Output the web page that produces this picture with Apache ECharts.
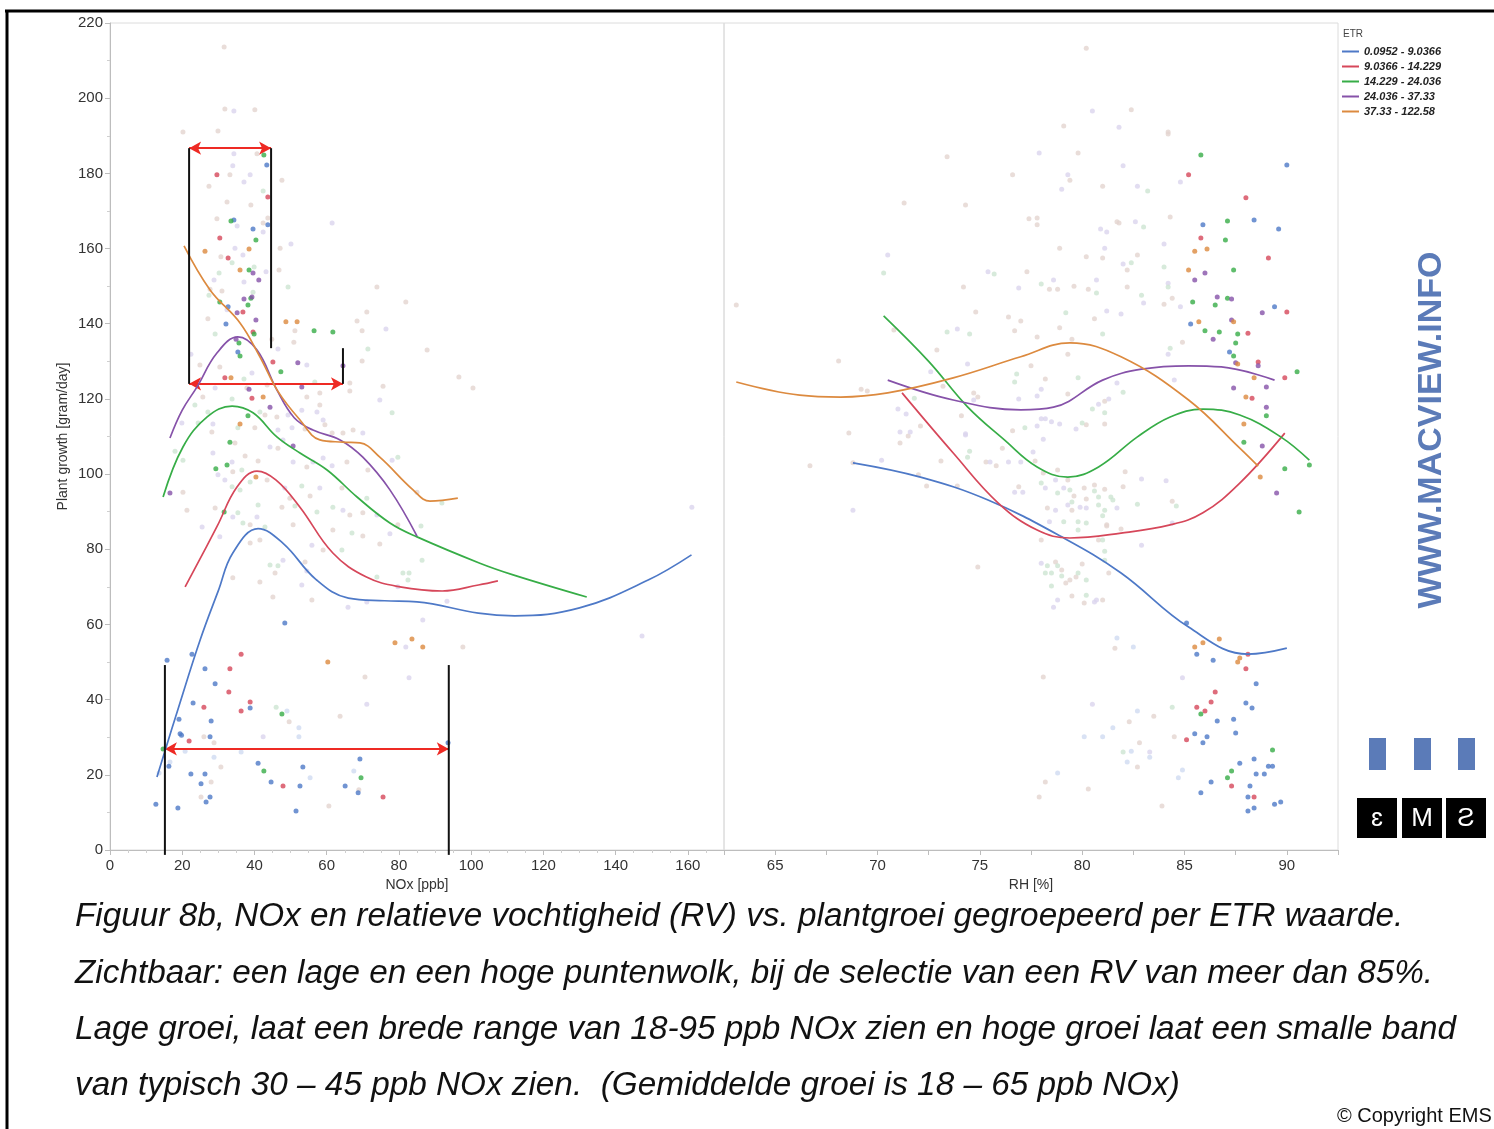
<!DOCTYPE html>
<html><head><meta charset="utf-8">
<script src="https://cdn.jsdelivr.net/npm/echarts@6/dist/echarts.min.js"></script>
<style>html,body{margin:0;padding:0;background:#fff}#c{width:1494px;height:1129px}</style>
</head><body><div id="c"></div>
<script>
// ---------- DATA ----------
const groupNames = ['0.0952 - 9.0366','9.0366 - 14.229','14.229 - 24.036','24.036 - 37.33','37.33 - 122.58'];
const noxTicks = [0,20,40,60,80,100,120,140,160];
const rhTicks = [65,70,75,80,85,90];
const growthTicks = [0,20,40,60,80,100,120,140,160,180,200,220];

// fitted curves, NOx panel  [NOx, growth]
const curveNoxBlue   = [[13,19.4],[19,38],[25,56],[30,69],[34,79],[41,85.5],[48,81.5],[57,72],[66,67],[76,66.3],[85,66],[102,63],[112,62.3],[130,64.4],[149,71.8],[161,78.5]];
const curveNoxRed    = [[20.8,70],[29.6,86],[35.2,96.6],[40.7,100.8],[46,98.4],[52.6,91.2],[61.7,79],[71,72.6],[80.3,70],[92,68.9],[102,70.5],[107.4,71.6]];
const curveNoxGreen  = [[14.7,93.9],[20.2,107.2],[26.9,115.2],[33.8,118.1],[39.6,116.3],[46.2,109.9],[52.6,105.6],[60.1,101.1],[68.4,93.9],[77.5,87],[85,83.3],[102.4,76.3],[111.6,73.2],[132,67.3]];
const curveNoxPurple = [[16.6,109.6],[20,117],[24.1,123.2],[29.6,132.2],[35.4,136.5],[40.7,133],[46.2,122.4],[51,115],[56.2,111.7],[63.7,109.1],[70,104.5],[77.5,95.8],[85,83.5]];
const curveNoxOrange = [[20.5,160.7],[27.7,149],[36,140.2],[41.5,131.2],[46.5,122],[52.6,114.4],[58.1,109.1],[64.5,108.5],[69.2,108.3],[74.7,104.5],[83.9,95.8],[88.6,92.8],[96.3,93.6]];

// fitted curves, RH panel  [RH, growth]
const curveRhBlue   = [[68.8,103],[72.1,99.2],[75.4,93.1],[79,83.3],[81.9,73.7],[85.2,59.3],[88.1,52.1],[90,53.7]];
const curveRhRed    = [[71.2,121.6],[73.7,105.6],[75.9,92.3],[77.8,85.1],[79.4,83],[81.9,84.3],[84.3,86.5],[85.9,89.7],[87.7,97.6],[89.9,110.9]];
const curveRhGreen  = [[70.3,142.1],[72.5,130],[74.4,117.9],[76.2,109.1],[77.8,101.9],[79.3,99.2],[80.8,101.9],[82.7,109.9],[84.3,115.2],[85.9,117.3],[87.7,115.7],[89.7,109.9],[91.1,103.7]];
const curveRhPurple = [[70.5,125],[73.7,119.7],[77,117.1],[78.6,117.8],[81,125],[82.9,127.9],[85.2,128.8],[86.8,128.5],[89.4,125]];
const curveRhOrange = [[63.1,124.5],[66.2,121],[68.2,120.5],[70.5,121.6],[73.7,125.6],[77,131.2],[79.4,134.9],[81.9,131.2],[85.2,119.7],[87.7,106.9],[88.6,102.1]];

// selected (RH > 85%) observations, NOx panel
const ptsNoxBlue   = [[43.4,182.2],[34.3,167.6],[39.6,165.2],[43.7,166.3],[32.7,144.5],[32.1,139.9],[35.4,132.5],[48.4,60.4],[15.8,50.5],[22.7,52.1],[26.3,48.2],[29.1,44.2],[23.0,39.1],[38.8,37.8],[19.1,34.8],[28.0,34.3],[19.4,30.9],[19.8,30.5],[27.7,30.1],[93.6,28.5],[69.2,24.2],[16.3,22.3],[41.0,23.1],[53.4,22.1],[22.4,20.2],[26.3,20.2],[44.6,18.1],[52.6,17.0],[25.2,17.6],[65.1,17.0],[68.7,15.2],[27.7,14.1],[26.6,12.8],[12.7,12.2],[18.8,11.2],[51.5,10.4]];
const ptsNoxRed    = [[29.6,179.6],[43.7,173.7],[30.4,162.8],[32.7,157.5],[36.8,143.1],[39.6,137.8],[45.1,129.8],[31.8,125.6],[39.3,120.2],[36.3,52.1],[33.2,48.2],[32.9,42.0],[26.0,38.0],[38.8,39.4],[36.3,37.0],[21.9,29.0],[47.9,17.0],[75.6,14.1]];
const ptsNoxGreen  = [[42.6,184.9],[33.5,167.3],[40.4,162.3],[38.5,154.3],[39.0,146.8],[30.4,145.8],[38.2,145.0],[56.5,138.1],[61.7,137.8],[39.9,137.3],[35.7,134.9],[36.0,131.4],[47.3,127.2],[38.2,115.5],[33.2,108.5],[29.3,101.4],[32.4,102.4],[31.6,89.9],[47.6,36.2],[14.7,26.9],[42.6,21.0],[69.5,19.2]];
const ptsNoxPurple = [[39.6,153.5],[41.2,151.6],[37.1,146.6],[39.3,147.1],[35.2,142.9],[40.4,141.0],[34.9,135.9],[52.0,129.6],[64.5,128.8],[53.1,123.2],[38.5,122.6],[44.3,117.8],[50.7,107.5],[16.6,95.0]];
const ptsNoxOrange = [[26.3,159.3],[38.5,159.9],[36.0,154.3],[48.7,140.5],[51.8,140.5],[33.5,125.6],[42.4,120.5],[36.0,113.3],[40.4,99.2],[60.3,50.0],[78.9,55.1],[83.6,56.1],[86.6,54.0]];

// selected observations, RH panel
const ptsRhBlue   = [[90.0,182.2],[88.4,167.6],[89.6,165.2],[85.9,166.3],[89.4,144.5],[85.3,139.9],[87.2,132.5],[85.1,60.4],[85.6,52.1],[86.4,50.5],[88.5,44.2],[88.0,39.1],[88.3,37.8],[86.6,34.3],[87.4,34.8],[87.5,31.1],[85.5,30.9],[86.1,30.1],[85.9,28.5],[87.7,23.1],[88.4,24.2],[89.1,22.3],[89.3,22.3],[88.5,20.2],[88.9,20.2],[86.3,18.1],[88.2,17.0],[85.8,15.2],[88.1,14.1],[88.4,11.2],[88.1,10.4],[89.4,12.2],[89.7,12.8]];
const ptsRhRed    = [[85.2,179.6],[88.0,173.5],[85.8,162.8],[89.1,157.5],[90.0,143.1],[88.1,137.5],[88.6,129.8],[89.9,125.6],[88.3,120.2],[88.1,52.1],[88.0,48.2],[86.5,42.0],[86.3,39.4],[85.6,38.0],[86.0,37.0],[85.1,29.3],[87.3,17.0],[88.4,14.1]];
const ptsRhGreen  = [[85.8,184.9],[87.1,167.3],[87.0,162.3],[87.4,154.3],[87.1,146.8],[85.4,145.8],[86.5,145.0],[86.0,138.1],[86.7,137.8],[87.6,137.3],[87.5,134.9],[87.4,131.4],[90.5,127.2],[89.0,115.5],[87.9,108.5],[89.9,101.4],[91.1,102.4],[90.6,89.9],[85.8,36.2],[89.3,26.6],[87.3,21.0],[87.1,19.2]];
const ptsRhPurple = [[86.0,153.5],[85.5,151.6],[86.6,147.1],[87.3,146.6],[88.8,142.9],[87.3,141.0],[86.4,135.9],[88.6,128.8],[87.5,129.6],[87.4,122.9],[89.0,123.2],[89.0,117.8],[88.8,107.5],[89.5,95.0]];
const ptsRhOrange = [[85.5,159.3],[86.1,159.9],[85.2,154.3],[85.7,140.5],[87.4,140.5],[87.6,129.3],[88.4,125.6],[88.0,120.5],[87.9,113.3],[88.7,99.2],[85.5,54.0],[85.9,55.1],[86.7,56.1],[87.7,51.1],[87.6,50.0]];

// remaining (unselected) observations: [x, growth, shade 0 beige / 1 lilac / 2 mint / 3 light blue]
const fadedNox = [
[31.6,213.6,0],[31.8,197.1,0],[34.3,196.6,1],[40.1,196.9,0],[20.2,191.0,0],[29.9,191.3,0],[34.3,185.2,1],[40.7,185.2,0],[34.0,182.0,1],[33.2,179.6,0],[38.8,179.6,1],[47.6,178.2,0],[37.1,177.7,1],[27.4,176.6,0],[42.4,175.3,2],[32.4,172.4,0],[39.0,171.6,0],[29.6,167.9,0],[35.2,166.0,1],[42.4,166.8,0],[43.7,168.1,0],[42.4,164.4,1],[47.1,160.1,0],[50.1,161.2,1],[34.6,160.1,1],[36.8,158.3,1],[30.7,157.8,0],[33.8,156.2,2],[30.2,153.5,2],[39.9,155.1,2],[43.2,153.8,1],[46.8,154.3,0],[28.8,151.6,1],[37.1,151.1,1],[49.3,149.8,2],[27.7,149.2,0],[27.4,147.6,2],[39.6,148.4,2],[31.0,148.7,0],[61.5,166.8,1],[73.9,149.8,0],[71.1,143.1,0],[68.4,140.7,0],[69.8,138.1,0],[76.4,138.6,1],[71.4,133.3,2],[69.8,130.1,0],[32.4,143.7,1],[27.1,141.3,0],[29.1,137.3,2],[51.2,138.1,0],[44.8,135.9,0],[50.9,135.1,0],[46.5,133.3,1],[22.4,131.9,1],[24.9,129.0,0],[30.4,128.5,0],[39.3,126.9,1],[54.5,129.0,1],[37.1,125.3,2],[56.7,124.5,2],[66.4,124.2,0],[29.1,122.9,1],[43.5,123.7,0],[81.9,145.8,0],[87.8,133.0,0],[96.6,125.8,0],
[37.9,122.9,0],[54.5,120.5,0],[58.1,121.6,0],[66.4,122.1,0],[75.6,123.4,0],[74.7,119.7,1],[23.5,118.4,2],[25.7,120.5,0],[27.1,116.5,2],[33.8,120.0,2],[41.5,116.5,2],[42.9,115.7,0],[46.2,115.2,0],[49.3,115.7,1],[53.1,117.0,1],[57.3,116.5,1],[58.1,118.4,0],[59.0,114.4,1],[59.5,113.1,0],[19.9,113.6,1],[24.4,113.6,2],[28.5,113.3,1],[28.2,111.2,0],[35.4,112.3,2],[40.1,112.3,0],[46.5,111.7,1],[50.4,112.3,1],[54.0,112.0,0],[61.5,110.9,0],[64.5,110.9,0],[67.3,111.7,0],[70.0,110.9,1],[78.1,116.3,2],[47.9,109.1,1],[44.3,107.2,1],[46.5,106.9,0],[34.6,108.3,0],[18.0,106.1,2],[20.2,103.7,2],[28.5,105.6,1],[33.8,103.2,1],[37.4,104.8,0],[41.0,103.5,0],[50.7,103.2,1],[54.5,101.9,0],[56.2,103.2,1],[59.0,104.3,1],[61.5,102.2,1],[65.6,103.2,0],[71.4,101.1,0],[78.1,103.7,1],[79.7,104.5,2],[29.9,99.8,1],[31.8,98.4,1],[34.0,100.6,0],[36.5,101.1,2],[38.8,97.9,2],[43.5,98.4,0],[48.4,96.3,1],[49.8,93.6,0],[51.2,91.5,2],[53.1,96.8,2],[55.4,94.2,0],[58.1,96.3,1],[64.2,96.3,0],[33.8,96.6,2],[36.0,95.8,2],[20.2,95.2,0],[21.3,90.4,0],[25.5,85.9,1],[29.1,91.0,0],[30.4,83.3,1],[34.0,88.6,1],[35.4,89.7,2],[36.8,87.0,2],[38.8,86.5,0],[41.0,91.8,2],[40.7,88.6,1],[42.9,85.9,2],[38.8,81.7,0],[41.5,82.5,0],[47.6,91.2,0],[50.7,86.5,0],[55.9,81.1,1],[57.3,89.9,2],[61.7,91.2,2],[64.5,90.4,1],[66.4,89.1,0],[71.1,93.6,2],[70.0,89.7,0],[61.7,85.1,0],[59.0,79.8,0],[64.2,79.8,2],[67.0,84.3,2],[70.0,83.5,0],[74.7,81.4,0],[77.5,84.1,1],[73.9,89.1,1],[79.7,86.5,0],[86.1,86.2,2],[86.4,77.1,2],[81.1,73.7,2],[82.8,73.7,2],[82.5,71.8,2],[73.9,72.6,2],[79.7,70.0,1],[93.3,66.2,1],[44.3,75.8,2],[46.5,75.6,2],[45.7,73.7,0],[47.9,77.1,1],[54.0,76.6,0],[54.5,74.2,1],[53.1,70.5,1],[55.9,66.5,0],[45.1,67.3,0],[41.5,71.3,0],[34.0,72.4,0],[65.9,64.6,1],[71.1,66.0,1],[86.6,61.2,1],[97.7,54.0,0],[100.5,122.9,0],[85.0,95.2,0],[91.9,92.3,2],
[81.9,54.0,1],[70.6,46.0,0],[82.8,45.8,1],[71.1,38.8,1],[46.0,38.0,2],[49.0,37.0,3],[49.6,34.1,0],[63.7,35.6,0],[42.4,30.1,1],[52.3,32.5,3],[52.3,30.1,3],[28.8,28.5,0],[26.0,30.1,0],[20.8,26.3,3],[28.8,24.7,3],[36.3,26.1,3],[16.6,23.4,3],[30.7,22.1,0],[55.4,19.2,3],[67.5,21.0,3],[28.0,18.1,0],[25.2,14.1,0],[68.9,16.0,0],[60.6,11.7,0],[13.6,20.5,3],[147.3,56.9,1],[161.1,91.2,1]
];
const fadedRh = [
[80.2,213.3,0],[80.5,196.6,1],[82.4,196.9,0],[79.1,192.6,0],[81.8,192.3,1],[77.9,185.4,1],[79.8,185.4,0],[73.4,184.4,0],[82.0,182.0,1],[76.6,179.6,0],[79.3,179.6,1],[79.4,178.2,0],[79.0,175.8,1],[81.0,176.6,0],[82.7,176.6,1],[71.3,172.1,0],[74.3,171.6,0],[77.4,167.9,0],[77.8,168.1,0],[77.8,166.3,0],[81.7,167.1,0],[81.8,166.8,0],[80.9,165.2,1],[81.2,164.4,1],[82.6,167.1,1],[78.9,160.1,0],[81.1,160.1,1],[80.2,157.8,0],[81.0,157.5,0],[82.7,158.3,0],[70.5,158.3,1],[70.3,153.5,2],[82.0,155.9,1],[82.4,156.2,2],[82.2,154.3,0],[75.4,153.8,1],[75.7,153.2,2],[77.3,153.8,0],[82.2,149.8,0],[80.7,151.6,1],[80.7,148.2,2],[78.6,151.6,1],[78.4,149.2,0],[78.8,149.2,0],[79.6,150.0,0],[80.3,149.2,0],[76.9,149.5,1],[78.0,150.6,2],[74.2,149.8,0],[74.8,143.1,0],[76.4,141.8,0],[77.0,140.7,0],[76.7,138.1,0],[79.2,142.9,2],[81.2,143.4,1],[81.9,142.6,1],[80.6,141.3,0],[78.9,138.9,0],[77.8,136.5,0],[73.4,137.8,2],[73.9,138.6,1],[74.5,137.3,2],[70.8,138.3,0],[72.9,133.0,0],[81.0,137.3,2],[79.5,135.9,0],[79.3,131.9,0],[77.5,128.8,0],[74.4,129.3,1],[72.6,127.2,1],[73.2,123.4,0],[76.8,126.6,2],[76.7,124.5,2],[78.2,125.3,0],[79.8,125.6,2],[81.7,124.2,1],[82.0,121.8,2],[79.3,121.3,0],[78.0,122.6,1],[77.8,120.8,1],[76.9,120.0,1],[74.7,121.6,0],[74.9,120.5,0],[74.7,119.7,1],[74.1,115.5,0],[71.8,120.2,2],[69.2,122.6,0],[69.5,122.1,0],[68.1,130.1,0],[63.1,145.0,0],[71.0,117.3,1],[71.4,116.0,1],[71.1,111.2,1],[71.6,111.2,1],[72.1,112.8,0],[68.6,110.9,0],[74.3,110.4,1],[76.6,111.5,0],[77.2,112.3,2],[77.8,112.8,1],[78.2,114.7,1],[78.0,114.7,1],[78.5,113.9,1],[78.9,113.3,1],[79.7,112.0,1],[80.0,113.6,2],[80.2,113.1,0],[80.5,117.3,2],[80.8,118.6,1],[81.1,119.4,0],[81.3,120.0,1],[81.1,116.3,2],[81.1,113.3,0],
[84.2,191.0,0],[84.2,190.5,0],[84.8,177.7,1],[83.2,175.3,2],[84.3,168.4,0],[83.0,165.7,2],[84.0,161.2,1],[84.0,155.1,2],[84.2,150.8,1],[84.2,149.8,2],[82.9,147.6,2],[83.0,145.5,1],[84.4,146.8,0],[84.0,145.2,0],[84.8,144.5,1],[84.9,135.1,0],[84.3,133.5,2],[84.2,131.9,1],[84.5,125.0,1],
[68.8,103.0,0],[70.2,103.7,1],[68.8,90.4,1],[71.1,108.3,0],[71.5,110.1,0],[72.0,99.8,0],[72.4,96.8,0],[73.1,103.5,0],[73.9,96.8,0],[74.3,110.7,1],[74.5,106.1,2],[74.4,104.5,2],[74.9,75.3,0],[75.3,103.2,0],[75.5,103.2,1],[75.8,102.2,0],[76.1,106.9,0],[76.4,103.2,1],[76.9,96.6,0],[76.7,95.2,1],[77.1,95.2,1],[77.0,103.2,1],[77.6,105.9,1],[77.7,103.5,0],[78.0,97.6,2],[78.1,109.3,1],[78.1,100.3,0],[78.2,96.3,1],[78.3,91.0,0],[78.4,87.3,1],[78.7,98.4,1],[78.7,90.4,1],[78.8,95.0,2],[78.8,101.1,0],[79.1,87.3,2],[79.1,96.3,1],[79.3,91.8,1],[79.3,98.4,0],[79.4,95.8,2],[79.5,90.4,0],[79.5,92.6,2],[79.6,94.2,0],[79.8,85.1,2],[79.8,87.3,2],[80.2,87.0,2],[79.9,91.2,1],[80.2,91.0,1],[80.1,96.3,0],[80.2,93.4,0],[80.6,97.1,0],[80.6,95.5,2],[80.8,93.9,2],[80.8,91.8,2],[81.1,96.0,0],[81.0,88.9,2],[81.1,90.4,2],[81.2,86.5,0],[81.2,86.2,0],[81.4,93.9,2],[81.5,93.1,2],[81.7,91.0,1],[82.0,96.6,0],[82.1,100.6,0],[81.9,85.4,0],[82.7,92.0,2],[82.9,98.7,1],[82.9,81.1,1],[84.1,98.2,1],[84.4,92.8,0],[84.6,91.5,2],[84.4,87.0,1],[66.7,102.2,0],
[78.0,82.5,0],[78.0,76.3,1],[78.3,75.6,2],[78.5,73.7,2],[78.2,73.7,2],[78.5,70.2,2],[78.7,76.6,0],[78.8,75.6,2],[78.8,66.5,1],[78.6,64.6,1],[79.0,74.5,0],[79.0,72.9,2],[79.2,71.0,0],[79.4,71.8,0],[79.5,67.6,0],[79.7,72.6,0],[79.8,73.7,2],[80.0,76.1,0],[80.2,71.8,2],[80.2,67.8,2],[80.1,65.7,0],[80.6,66.0,1],[80.7,66.5,1],[81.0,66.5,0],[81.1,77.1,2],[81.1,79.5,2],[81.0,82.5,2],[81.3,73.7,0],[80.8,82.5,0],
[81.7,56.4,3],[81.6,53.7,0],[82.5,54.0,3],[78.1,46.0,0],[84.9,45.8,1],[80.5,38.8,1],[84.4,38.0,2],[82.7,37.0,3],[83.5,35.6,0],[82.3,34.1,0],[80.1,30.1,3],[81.0,30.1,3],[84.5,30.1,0],[81.5,32.5,3],[82.8,28.5,0],[83.3,26.1,1],[83.3,24.7,3],[82.0,26.1,2],[82.4,26.3,3],[82.2,23.4,3],[82.7,22.1,0],[78.8,20.5,3],[84.9,21.3,3],[84.7,19.2,3],[78.2,18.1,0],[80.3,16.2,0],[77.9,14.1,0],[83.9,11.7,0]
];

// annotation brackets (NOx, growth) and double arrows
const bracketNox = [[[21.9,124],[21.9,186.7]],[[44.6,133.5],[44.6,186.7]],[[64.5,124],[64.5,133.5]],[[15.2,-1.3],[15.2,49.2]],[[93.8,-1.3],[93.8,49.2]]];
const arrowNox = [[[21.9,186.7],[44.6,186.7]],[[21.9,124],[64.5,124]],[[15.2,26.9],[93.8,26.9]]];

const captionLines = [
 'Figuur 8b, NOx en relatieve vochtigheid (RV) vs. plantgroei gegroepeerd per ETR waarde.',
 'Zichtbaar: een lage en een hoge puntenwolk, bij de selectie van een RV van meer dan 85%.',
 'Lage groei, laat een brede range van 18-95 ppb NOx zien en hoge groei laat een smalle band',
 'van typisch 30 \u2013 45 ppb NOx zien.  (Gemiddelde groei is 18 \u2013 65 ppb NOx)'
];

// ---------- CHART ----------
const COLORS = ['#4e79c7','#d6475a','#37ad47','#8652a9','#dc8a3f'];
const FADE = ['#e3d4cf','#dbd4ee','#cde5d2','#d0dbf1'];
const FONT = '"Liberation Sans", Arial, sans-serif';
const curvesNox = [curveNoxBlue,curveNoxRed,curveNoxGreen,curveNoxPurple,curveNoxOrange];
const curvesRh = [curveRhBlue,curveRhRed,curveRhGreen,curveRhPurple,curveRhOrange];
const ptsNox = [ptsNoxBlue,ptsNoxRed,ptsNoxGreen,ptsNoxPurple,ptsNoxOrange];
const ptsRh = [ptsRhBlue,ptsRhRed,ptsRhGreen,ptsRhPurple,ptsRhOrange];

const series = [];
groupNames.forEach((nm,g)=>{
  series.push({type:'line',name:nm,xAxisIndex:0,yAxisIndex:0,data:curvesNox[g],smooth:0.4,symbol:'none',showSymbol:false,
    lineStyle:{width:1.7,color:COLORS[g]},itemStyle:{color:COLORS[g]},z:5,silent:true});
  series.push({type:'line',name:nm,xAxisIndex:1,yAxisIndex:1,data:curvesRh[g],smooth:0.4,symbol:'none',showSymbol:false,
    lineStyle:{width:1.7,color:COLORS[g]},itemStyle:{color:COLORS[g]},z:5,silent:true});
});
[fadedNox,fadedRh].forEach((arr,ai)=>{
  FADE.forEach((col,k)=>{
    series.push({type:'scatter',xAxisIndex:ai,yAxisIndex:ai,symbolSize:5,z:2,silent:true,
      itemStyle:{color:col},data:arr.filter(p=>p[2]===k).map(p=>[p[0],p[1]])});
  });
});
groupNames.forEach((nm,g)=>{
  series.push({type:'scatter',name:nm,xAxisIndex:0,yAxisIndex:0,symbolSize:5,z:3,silent:true,itemStyle:{color:COLORS[g]},data:ptsNox[g]});
  series.push({type:'scatter',name:nm,xAxisIndex:1,yAxisIndex:1,symbolSize:5,z:3,silent:true,itemStyle:{color:COLORS[g]},data:ptsRh[g]});
});
bracketNox.forEach((seg,i)=>{
  const s = {type:'line',xAxisIndex:0,yAxisIndex:0,data:seg,symbol:'none',showSymbol:false,clip:false,silent:true,z:8,
    lineStyle:{color:'#111',width:2}};
  if(i===0){
    s.markLine = {silent:true,symbol:['arrow','arrow'],symbolSize:[10,12],animation:false,label:{show:false},
      lineStyle:{color:'#ee2a24',width:2,type:'solid'},
      data: arrowNox.map(a=>[{coord:a[0]},{coord:a[1]}])};
  }
  series.push(s);
});

const axLabel = {color:'#333',fontSize:15,fontFamily:FONT};
const graphics = [
  {type:'line',shape:{x1:5,y1:11,x2:1494,y2:11},style:{stroke:'#000',lineWidth:3}},
  {type:'line',shape:{x1:7,y1:10,x2:7,y2:1129},style:{stroke:'#000',lineWidth:3}},
  {type:'text',x:1343,y:34,style:{text:'ETR',font:'10px '+FONT,fill:'#444',textVerticalAlign:'middle',verticalAlign:'middle'}},
  {type:'text',x:1432,y:430,rotation:Math.PI/2,style:{text:'WWW.MACVIEW.INFO',font:'bold 34px '+FONT,fill:'#5b7bb8',
    textAlign:'center',align:'center',textVerticalAlign:'middle',verticalAlign:'middle'}},
  {type:'rect',shape:{x:1369,y:738,width:17,height:32},style:{fill:'#5b7bb8'}},
  {type:'rect',shape:{x:1414,y:738,width:17,height:32},style:{fill:'#5b7bb8'}},
  {type:'rect',shape:{x:1458,y:738,width:17,height:32},style:{fill:'#5b7bb8'}},
  {type:'rect',shape:{x:1357,y:798,width:40,height:40},style:{fill:'#000'}},
  {type:'rect',shape:{x:1402,y:798,width:40,height:40},style:{fill:'#000'}},
  {type:'rect',shape:{x:1446,y:798,width:40,height:40},style:{fill:'#000'}},
  {type:'text',x:1377,y:819,style:{text:'\u025B',font:'26px '+FONT,fill:'#fff',textAlign:'center',align:'center',textVerticalAlign:'middle',verticalAlign:'middle'}},
  {type:'text',x:1422,y:819,style:{text:'M',font:'26px '+FONT,fill:'#fff',textAlign:'center',align:'center',textVerticalAlign:'middle',verticalAlign:'middle'}},
  {type:'text',x:1466,y:819,style:{text:'\u01A7',font:'26px '+FONT,fill:'#fff',textAlign:'center',align:'center',textVerticalAlign:'middle',verticalAlign:'middle'}},
  {type:'text',x:1337,y:1116,style:{text:'\u00A9 Copyright EMS',font:'20px '+FONT,fill:'#111',textVerticalAlign:'middle',verticalAlign:'middle'}}
];
captionLines.forEach((t,i)=>{
  graphics.push({type:'text',x:75,y:917+i*56.3,style:{text:t,font:'italic 33.3px '+FONT,fill:'#111',textVerticalAlign:'middle',verticalAlign:'middle'}});
});

const option = {
  backgroundColor:'#fff',
  animation:false,
  textStyle:{fontFamily:FONT},
  grid:[
    {left:110,top:23,width:614,height:827,show:true,borderColor:'#dcdcdc',borderWidth:1},
    {left:724,top:23,width:614,height:827,show:true,borderColor:'#dcdcdc',borderWidth:1}
  ],
  legend:{data:groupNames,orient:'vertical',left:1342,top:45,padding:0,icon:'rect',itemWidth:17,itemHeight:2,itemGap:2,selectedMode:false,
    textStyle:{fontSize:11,fontStyle:'italic',fontWeight:'bold',color:'#222',lineHeight:13,fontFamily:FONT}},
  xAxis:[
    {type:'value',gridIndex:0,min:0,max:170,interval:20,name:'NOx [ppb]',nameLocation:'middle',nameGap:28,
      nameTextStyle:{color:'#333',fontSize:14,fontFamily:FONT},
      axisLine:{lineStyle:{color:'#bdbdbd'}},axisTick:{show:true,length:5,lineStyle:{color:'#bdbdbd'}},
      minorTick:{show:true,splitNumber:4,length:3,lineStyle:{color:'#cfcfcf'}},splitLine:{show:false},
      axisLabel:Object.assign({margin:8,formatter:v=>noxTicks.includes(v)?String(v):''},axLabel)},
    {type:'value',gridIndex:1,min:62.5,max:92.5,interval:2.5,name:'RH [%]',nameLocation:'middle',nameGap:28,
      nameTextStyle:{color:'#333',fontSize:14,fontFamily:FONT},
      axisLine:{lineStyle:{color:'#bdbdbd'}},axisTick:{show:true,length:5,lineStyle:{color:'#bdbdbd'}},splitLine:{show:false},
      axisLabel:Object.assign({margin:8,formatter:v=>rhTicks.includes(v)?String(v):''},axLabel)}
  ],
  yAxis:[
    {type:'value',gridIndex:0,min:0,max:220,interval:20,name:'Plant growth [gram/day]',nameLocation:'middle',nameGap:40,
      nameTextStyle:{color:'#333',fontSize:14,fontFamily:FONT},
      axisLine:{show:true,lineStyle:{color:'#bdbdbd'}},axisTick:{show:true,length:5,lineStyle:{color:'#bdbdbd'}},
      minorTick:{show:true,splitNumber:2,length:3,lineStyle:{color:'#cfcfcf'}},splitLine:{show:false},
      axisLabel:Object.assign({margin:7,formatter:v=>growthTicks.includes(v)?String(v):''},axLabel)},
    {type:'value',gridIndex:1,min:0,max:220,interval:20,axisLine:{show:false},axisTick:{show:false},axisLabel:{show:false},splitLine:{show:false}}
  ],
  series:series,
  graphic:graphics
};
const chart = echarts.init(document.getElementById('c'),null,{renderer:'canvas'});
chart.setOption(option);
</script></body></html>
